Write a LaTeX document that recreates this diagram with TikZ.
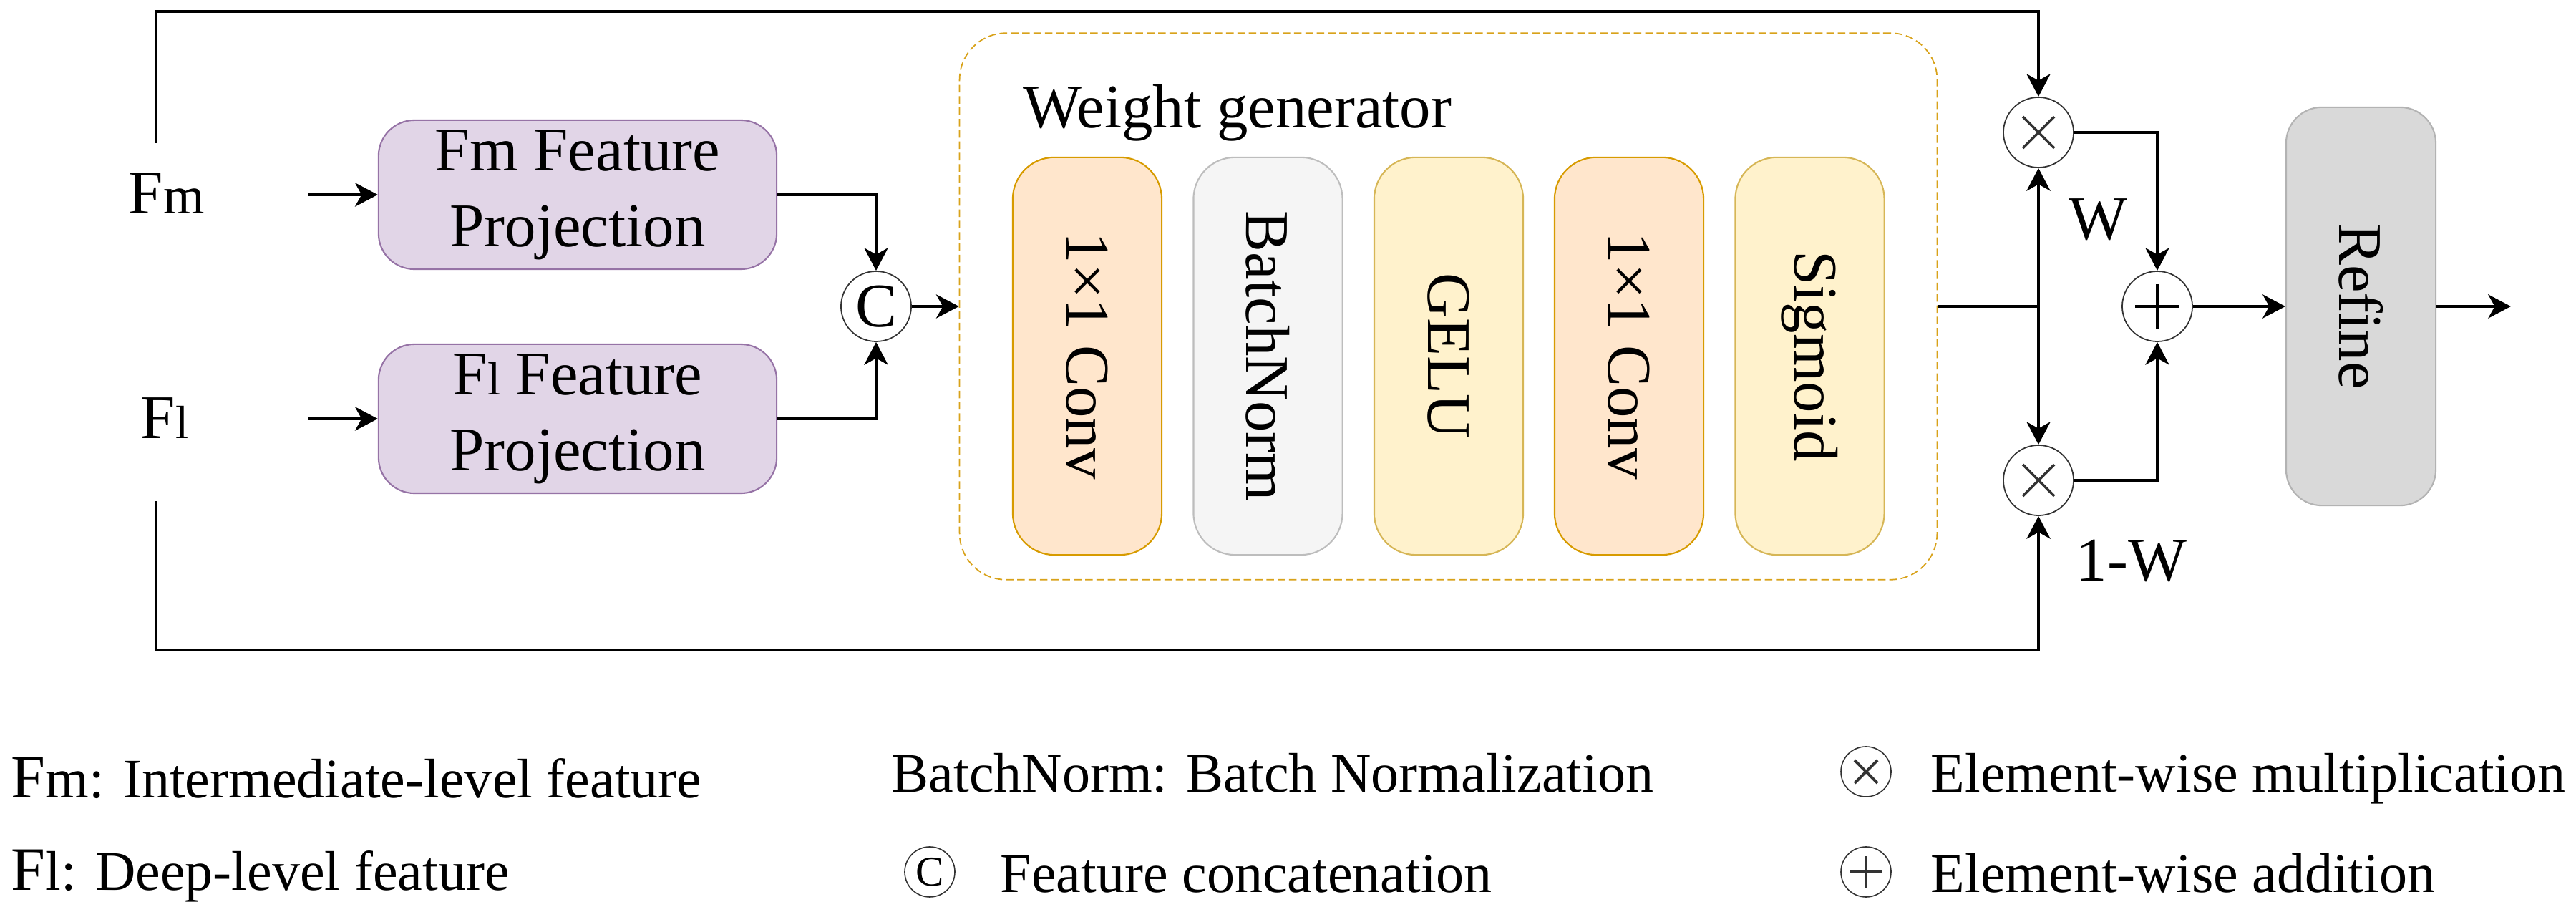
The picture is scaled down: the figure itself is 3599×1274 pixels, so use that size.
\documentclass[tikz,border=0pt]{standalone}
\usepackage{fontspec}
\setmainfont{Liberation Serif}
\usetikzlibrary{arrows.meta,positioning,calc}
\definecolor{purfill}{HTML}{E1D5E7}
\definecolor{purdraw}{HTML}{9673A6}
\definecolor{orafill}{HTML}{FFE6CC}
\definecolor{oradraw}{HTML}{D79B00}
\definecolor{yelfill}{HTML}{FFF2CC}
\definecolor{yeldraw}{HTML}{D6B656}
\definecolor{gryfill}{HTML}{F5F5F5}
\definecolor{grydraw}{HTML}{BDBDBD}
\definecolor{reffill}{HTML}{D9D9D9}
\definecolor{refdraw}{HTML}{B3B3B3}
\definecolor{dashdraw}{HTML}{D8A21A}
\definecolor{opgray}{HTML}{333333}
\newcommand{\mainfs}{\fontsize{24.7}{30.2}\selectfont}
\newcommand{\legfs}{\fontsize{22.2}{26}\selectfont}
\begin{document}
\begin{tikzpicture}[x=0.01cm,y=-0.01cm,
  conn/.style={line width=1.4pt,black},
  arr/.style={conn,-{Stealth[length=9pt,width=9.4pt,inset=2.6pt]}},
  projbox/.style={draw=purdraw,fill=purfill,line width=0.6pt,rounded corners=0.5cm,
    minimum width=5.56cm,minimum height=2.08cm,inner sep=0pt,align=center,font=\mainfs},
  stagebox/.style={line width=0.6pt,rounded corners=0.58cm,minimum width=2.08cm,
    minimum height=5.55cm,inner sep=0pt,font=\mainfs},
  opcirc/.style={circle,draw=opgray,line width=0.5pt,fill=white,minimum size=0.98cm,inner sep=0pt},
  legcirc/.style={circle,draw=opgray,line width=0.45pt,minimum size=0.70cm,inner sep=0pt},
  lbl/.style={inner sep=0pt,font=\mainfs},
  legtxt/.style={inner sep=0pt,anchor=base west,font=\legfs}]
\useasboundingbox (0,0) rectangle (3599,1274);

% inputs
\node[lbl,anchor=base west] (fmlab) at (179,299) {F\scalebox{0.85}{m}};
\node[lbl,anchor=base west] (fllab) at (196,613) {F\scalebox{0.75}{l}};
\coordinate (in1) at (431,272);
\coordinate (in2) at (431,585);

\node[projbox] (fmproj) at (807,272) {Fm Feature\\Projection};
\node[projbox] (flproj) at (807,585) {F\scalebox{0.75}{l} Feature\\Projection};

\node[opcirc,font=\mainfs] (cat) at (1224,428) {C};

% weight generator
\node[draw=dashdraw,dash pattern=on 3pt off 1.5pt,line width=0.5pt,rounded corners=0.65cm,
  minimum width=13.65cm,minimum height=7.63cm,inner sep=0pt] (wg) at (2023.5,428) {};
\node[lbl,anchor=base west] (wgt) at (1429,179) {Weight generator};

\node[stagebox,draw=oradraw,fill=orafill] (s1) at (1519,497.5) {\rotatebox{-90}{1×1 Conv}};
\node[stagebox,draw=grydraw,fill=gryfill] (s2) at (1771.5,497.5) {\rotatebox{-90}{BatchNorm}};
\node[stagebox,draw=yeldraw,fill=yelfill] (s3) at (2024,497.5) {\rotatebox{-90}{GELU}};
\node[stagebox,draw=oradraw,fill=orafill] (s4) at (2276,497.5) {\rotatebox{-90}{1×1 Conv}};
\node[stagebox,draw=yeldraw,fill=yelfill] (s5) at (2528.5,497.5) {\rotatebox{-90}{Sigmoid}};

% fusion
\node[opcirc] (mul1) at (2848,185) {};
\node[opcirc] (mul2) at (2848,671) {};
\node[opcirc] (add) at (3014,428) {};
\foreach \n in {mul1,mul2}{
  \draw[opgray,line width=1pt] ($(\n)+(-22,-22)$) -- ($(\n)+(22,22)$);
  \draw[opgray,line width=1pt] ($(\n)+(-22,22)$) -- ($(\n)+(22,-22)$);
}
\draw[black,line width=1.3pt] ($(add)+(-31,0)$) -- ($(add)+(31,0)$);
\draw[black,line width=1.3pt] ($(add)+(0,-31)$) -- ($(add)+(0,31)$);

\node[lbl] (wlab) at (2931,307) {W};
\node[lbl] (omwlab) at (2978,783) {1-W};

\node[draw=refdraw,fill=reffill,line width=0.6pt,rounded corners=0.5cm,
  minimum width=2.09cm,minimum height=5.56cm,inner sep=0pt,font=\mainfs] (refine) at (3298.5,428) {\rotatebox{-90}{Refine}};

\coordinate (junc) at (2848,428);
\coordinate (out) at (3508,428);
\coordinate (ts) at (218,200);
\coordinate (tl) at (218,16);
\coordinate (bs) at (218,700);
\coordinate (bl) at (218,908);

% connectors
\draw[arr] (in1) -- (in1 -| fmproj.west);
\draw[arr] (in2) -- (in2 -| flproj.west);
\draw[arr] (fmproj.east) -| (cat.north);
\draw[arr] (flproj.east) -| (cat.south);
\draw[arr] (cat.east) -- (cat.east -| wg.west);
\draw[conn] (wg.east |- junc) -- (junc);
\draw[arr] (junc) -- (mul1.south);
\draw[arr] (junc) -- (mul2.north);
\draw[arr] (ts) -- (tl) -| (mul1.north);
\draw[arr] (bs) -- (bl) -| (mul2.south);
\draw[arr] (mul1.east) -| (add.north);
\draw[arr] (mul2.east) -| (add.south);
\draw[arr] (add.east) -- (refine.west |- add.east);
\draw[arr] (refine.east |- out) -- (out);

% legend
\node[legtxt] (lg1) at (15,1115) {{\fontsize{24.5}{26}\selectfont F}m: Intermediate-level feature};
\node[legtxt] (lg2) at (15,1244) {{\fontsize{24.5}{26}\selectfont F}l: Deep-level feature};
\node[legtxt] (lg3) at (1245,1107) {BatchNorm: Batch Normalization};
\node[legcirc,font=\fontsize{16.8}{18}\selectfont] (lgc) at (1299,1218) {C};
\node[legtxt] (lg4) at (1397,1247) {Feature concatenation};
\node[legcirc] (lgm) at (2607,1078) {};
\draw[opgray,line width=1.1pt] ($(lgm)+(-16,-16)$) -- ($(lgm)+(16,16)$);
\draw[opgray,line width=1.1pt] ($(lgm)+(-16,16)$) -- ($(lgm)+(16,-16)$);
\node[legtxt] (lg5) at (2697,1107) {Element-wise multiplication};
\node[legcirc] (lga) at (2607,1218) {};
\draw[opgray,line width=1.2pt] ($(lga)+(-22,0)$) -- ($(lga)+(22,0)$);
\draw[opgray,line width=1.2pt] ($(lga)+(0,-22)$) -- ($(lga)+(0,22)$);
\node[legtxt] (lg6) at (2697,1247) {Element-wise addition};
\end{tikzpicture}
\end{document}
